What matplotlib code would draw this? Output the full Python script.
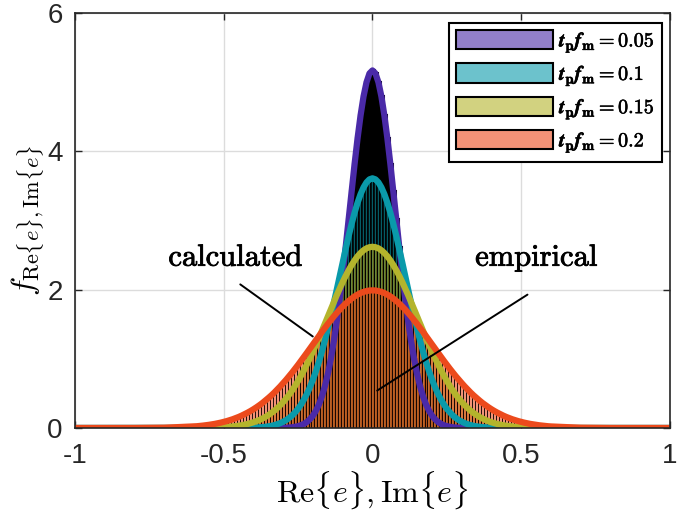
import numpy as np
import matplotlib
matplotlib.use('Agg')
import matplotlib.pyplot as plt
import matplotlib.patheffects as pe
from matplotlib.patches import Patch

plt.rcParams['mathtext.fontset'] = 'cm'
plt.rcParams['font.family'] = ['Liberation Sans', 'DejaVu Sans']
plt.rcParams['axes.unicode_minus'] = False

# values, x >= 0 (the chart is symmetric about 0)
x_half = [round(0.01 * i, 2) for i in range(61)] + [0.7, 0.8, 0.9, 1.0]

pdf_005 = [5.170, 5.127, 4.999, 4.794, 4.520, 4.192, 3.822, 3.427, 3.022, 2.620,
           2.234, 1.873, 1.544, 1.252, 0.998, 0.783, 0.603, 0.458, 0.341, 0.250,
           0.180, 0.128, 0.089, 0.061, 0.041, 0.027, 0.018, 0.011, 0.007, 0.004,
           0.003, 0.002, 0.001, 0.001, 0.0, 0.0, 0.0, 0.0, 0.0, 0.0,
           0.0, 0.0, 0.0, 0.0, 0.0, 0.0, 0.0, 0.0, 0.0, 0.0,
           0.0, 0.0, 0.0, 0.0, 0.0, 0.0, 0.0, 0.0, 0.0, 0.0,
           0.0, 0.0, 0.0, 0.0, 0.0]
pdf_01 = [3.610, 3.595, 3.551, 3.479, 3.381, 3.259, 3.115, 2.954, 2.778, 2.591,
          2.397, 2.199, 2.002, 1.807, 1.618, 1.437, 1.265, 1.105, 0.958, 0.823,
          0.702, 0.593, 0.497, 0.414, 0.341, 0.279, 0.227, 0.182, 0.146, 0.115,
          0.091, 0.071, 0.055, 0.042, 0.032, 0.024, 0.018, 0.013, 0.010, 0.007,
          0.005, 0.004, 0.003, 0.002, 0.001, 0.001, 0.0, 0.0, 0.0, 0.0,
          0.0, 0.0, 0.0, 0.0, 0.0, 0.0, 0.0, 0.0, 0.0, 0.0,
          0.0, 0.0, 0.0, 0.0, 0.0]
pdf_015 = [2.620, 2.614, 2.598, 2.570, 2.531, 2.483, 2.424, 2.357, 2.282, 2.200,
           2.112, 2.018, 1.921, 1.820, 1.717, 1.613, 1.509, 1.405, 1.303, 1.203,
           1.106, 1.012, 0.923, 0.837, 0.757, 0.681, 0.610, 0.544, 0.483, 0.427,
           0.376, 0.330, 0.288, 0.250, 0.217, 0.187, 0.160, 0.137, 0.116, 0.099,
           0.083, 0.070, 0.058, 0.049, 0.040, 0.033, 0.027, 0.022, 0.018, 0.015,
           0.012, 0.010, 0.008, 0.006, 0.005, 0.004, 0.003, 0.002, 0.002, 0.001,
           0.001, 0.0, 0.0, 0.0, 0.0]
pdf_02 = [1.990, 1.988, 1.980, 1.968, 1.951, 1.929, 1.903, 1.872, 1.838, 1.799,
          1.757, 1.712, 1.664, 1.613, 1.559, 1.504, 1.447, 1.389, 1.330, 1.270,
          1.210, 1.150, 1.090, 1.030, 0.972, 0.914, 0.858, 0.803, 0.750, 0.699,
          0.650, 0.602, 0.557, 0.513, 0.472, 0.434, 0.397, 0.362, 0.330, 0.300,
          0.272, 0.246, 0.222, 0.200, 0.179, 0.160, 0.143, 0.127, 0.113, 0.100,
          0.089, 0.078, 0.069, 0.060, 0.053, 0.046, 0.040, 0.035, 0.030, 0.026,
          0.023, 0.004, 0.0, 0.0, 0.0]

labels = [r'$\boldsymbol{t}_{\mathbf{p}}\boldsymbol{f}_{\mathbf{m}}\mathbf{=0.05}$',
          r'$\boldsymbol{t}_{\mathbf{p}}\boldsymbol{f}_{\mathbf{m}}\mathbf{=0.1}$',
          r'$\boldsymbol{t}_{\mathbf{p}}\boldsymbol{f}_{\mathbf{m}}\mathbf{=0.15}$',
          r'$\boldsymbol{t}_{\mathbf{p}}\boldsymbol{f}_{\mathbf{m}}\mathbf{=0.2}$']
colors = ['#4a2aa8', '#0a9aaa', '#b4b42c', '#ec4a1c']
edge_w = [2.2, 1.1, 0.8, 0.5]


def mirror(v):
    v = np.asarray(v, dtype=float)
    return np.concatenate([v[:0:-1], v])


x = mirror(x_half) * np.concatenate([-np.ones(len(x_half) - 1), np.ones(len(x_half))])
series = [mirror(s) for s in (pdf_005, pdf_01, pdf_015, pdf_02)]

fig = plt.figure(figsize=(6.85, 5.16), dpi=100)
ax = fig.add_axes([0.1095, 0.1705, 0.8685, 0.8043])

# empirical histograms
bar_mask = np.abs(x) <= 0.6
for s, c, lw in zip(series, colors, edge_w):
    fc = matplotlib.colors.to_rgba(c, 0.6)
    ax.bar(x[bar_mask], s[bar_mask], width=0.01, facecolor=fc,
           edgecolor='k', linewidth=lw, zorder=2)

# calculated pdfs
for s, c in zip(series, colors):
    ax.plot(x, s, color=c, lw=4.5, zorder=3, solid_capstyle='butt')

ax.set_xlim(-1, 1)
ax.set_ylim(0, 6)
ax.set_xticks([-1, -0.5, 0, 0.5, 1])
ax.set_xticklabels(['-1', '-0.5', '0', '0.5', '1'])
ax.set_yticks([0, 2, 4, 6])
ax.grid(True, color='#dcdcdc', lw=1.0, zorder=0)
ax.set_axisbelow(True)
ax.tick_params(direction='in', top=True, right=True, labelsize=20,
               colors='#262626', length=5, width=1.0)
ax.tick_params(axis='y', pad=9)
ax.tick_params(axis='x', pad=11)
for sp in ax.spines.values():
    sp.set_color('#262626')
    sp.set_linewidth(1.2)
    sp.set_zorder(5)

ax.set_xlabel(r'$\mathrm{Re}\{e\},\mathrm{Im}\{e\}$', fontsize=23, labelpad=0)
ax.set_ylabel(r'$f_{\mathrm{Re}\{e\},\mathrm{Im}\{e\}}$', fontsize=23, labelpad=0)

heavy = [pe.withStroke(linewidth=0.6, foreground='k')]
ax.text(-0.459, 2.46, r'$\mathrm{calculated}$', fontsize=22,
        ha='center', va='center', zorder=6, path_effects=heavy)
ax.text(0.553, 2.46, r'$\mathrm{empirical}$', fontsize=22,
        ha='center', va='center', zorder=6, path_effects=heavy)
ax.annotate('', xy=(-0.193, 1.30), xytext=(-0.452, 2.10),
            arrowprops=dict(arrowstyle='-', color='k', lw=1.4), zorder=6)
ax.annotate('', xy=(0.008, 0.52), xytext=(0.529, 1.95),
            arrowprops=dict(arrowstyle='-', color='k', lw=1.4), zorder=6)

handles = [Patch(facecolor=matplotlib.colors.to_rgba(c, 0.6), edgecolor='k', linewidth=1.5)
           for c in colors]
leg = ax.legend(handles, labels, loc='upper right', fontsize=14.5, handlelength=4.8,
                handleheight=1.09, handletextpad=0.3, labelspacing=0.42,
                bbox_to_anchor=(662 / 685, 1 - 23 / 516), bbox_transform=fig.transFigure,
                borderaxespad=0, borderpad=0.35, fancybox=False, framealpha=1)
leg.get_frame().set_edgecolor('k')
leg.get_frame().set_linewidth(1.5)
leg.set_zorder(7)
for t in leg.get_texts():
    t.set_path_effects([pe.withStroke(linewidth=0.4, foreground='k')])

fig.savefig('out.png', dpi=100)
